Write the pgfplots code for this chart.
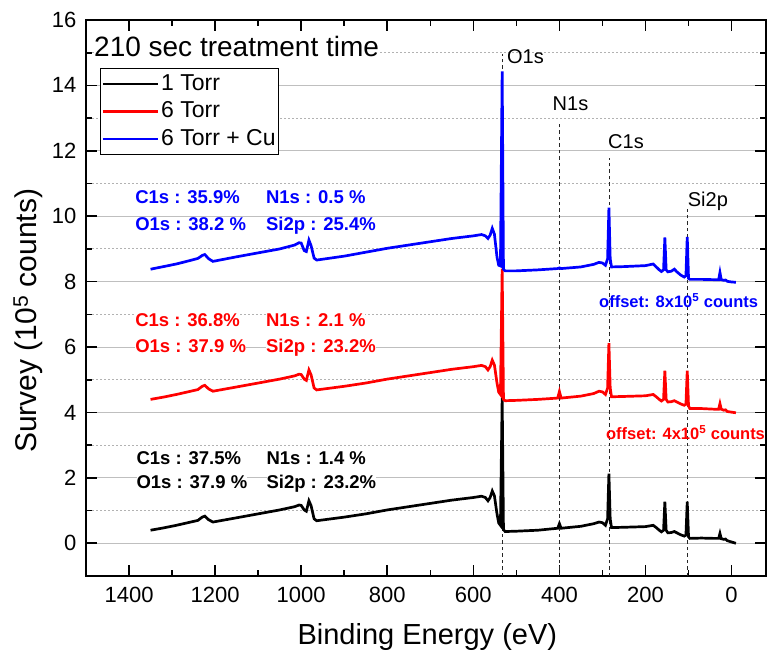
\documentclass[border=0pt]{standalone}
\usepackage{fontspec}
\setmainfont{Liberation Sans}
\usepackage{pgfplots}
\pgfplotsset{compat=1.18}

% black: 1 Torr (no offset)
\pgfplotstableread{
x y
1350 0.40
1320 0.47
1290 0.55
1260 0.64
1240 0.70
1230 0.80
1224 0.83
1215 0.72
1205 0.65
1150 0.78
1100 0.90
1050 1.02
1015 1.12
1005 1.17
1000 1.16
993 1.02
988 0.98
982 1.30
977 1.15
970 0.75
964 0.69
900 0.80
850 0.90
800 1.02
750 1.12
700 1.22
650 1.32
600 1.40
581 1.44
572 1.40
566 1.30
561 1.40
556 1.60
551 1.45
545 0.90
541 0.62
537 0.55
533 4.45
530 0.42
526 0.36
500 0.37
450 0.40
404 0.46
400 0.60
396 0.46
350 0.52
320 0.60
308 0.65
300 0.63
293 0.55
288 0.75
285 2.13
282 0.75
279 0.48
250 0.49
200 0.51
182 0.55
175 0.48
168 0.40
163 0.35
158 0.40
155 1.27
152 0.40
148 0.32
140 0.33
133 0.36
127 0.32
118 0.26
110 0.22
106 0.25
103 1.27
100 0.20
97 0.15
70 0.16
40 0.15
30 0.15
27 0.30
24 0.14
18 0.12
14 0.13
10 0.08
0 0.04
-10 0.00
}\torrone

% red: 6 Torr (offset 4)
\pgfplotstableread{
x y
1350 4.40
1320 4.47
1290 4.55
1260 4.64
1240 4.70
1230 4.80
1224 4.83
1215 4.72
1205 4.65
1150 4.78
1100 4.90
1050 5.02
1015 5.12
1005 5.17
1000 5.16
993 5.02
988 4.98
982 5.30
977 5.15
970 4.75
964 4.69
900 4.80
850 4.90
800 5.02
750 5.12
700 5.22
650 5.32
600 5.40
581 5.44
572 5.40
566 5.30
561 5.40
556 5.60
551 5.45
545 4.90
541 4.62
537 4.55
533 8.40
530 4.40
526 4.36
500 4.37
450 4.40
404 4.44
400 4.64
396 4.44
350 4.50
320 4.58
308 4.65
300 4.63
293 4.55
288 4.75
285 6.12
282 4.75
279 4.48
250 4.49
200 4.51
182 4.55
175 4.48
168 4.40
163 4.35
158 4.40
155 5.28
152 4.40
148 4.32
140 4.33
133 4.36
127 4.32
118 4.26
110 4.22
106 4.25
103 5.28
100 4.20
97 4.12
70 4.12
40 4.10
30 4.10
27 4.27
24 4.10
18 4.07
14 4.08
10 4.03
0 4.01
-10 3.99
}\torrsix

% blue: 6 Torr + Cu (offset 8)
\pgfplotstableread{
x y
1350 8.38
1320 8.46
1290 8.54
1260 8.64
1240 8.71
1230 8.80
1224 8.83
1215 8.70
1205 8.62
1150 8.76
1100 8.88
1050 9.00
1015 9.12
1005 9.19
1000 9.18
993 8.95
988 8.92
982 9.27
977 9.10
970 8.72
964 8.66
900 8.78
850 8.90
800 9.02
750 9.12
700 9.22
650 9.32
600 9.40
581 9.44
572 9.40
566 9.32
561 9.42
556 9.63
551 9.45
545 8.75
541 8.50
537 8.48
533 14.43
530 8.38
526 8.33
500 8.33
450 8.36
404 8.40
400 8.42
396 8.40
350 8.45
320 8.53
308 8.59
300 8.57
293 8.50
288 8.70
285 10.26
282 8.70
279 8.45
250 8.46
200 8.49
182 8.54
175 8.45
168 8.36
163 8.31
158 8.36
155 9.35
152 8.36
148 8.30
140 8.32
133 8.38
127 8.30
118 8.20
110 8.14
106 8.18
103 9.37
100 8.10
97 8.07
70 8.07
40 8.06
30 8.06
27 8.28
24 8.06
18 8.04
14 8.05
10 8.01
0 7.99
-10 7.98
}\torrsixcu

\begin{document}
\begin{tikzpicture}
\begin{axis}[
    scale only axis,
    width=680pt, height=556pt,
    x dir=reverse,
    xmin=-80, xmax=1500, ymin=-1, ymax=16,
    xtick={0,200,...,1400}, ytick={0,2,...,16},
    minor x tick num=1, minor y tick num=1,
    tick align=inside,
    major tick length=11pt, minor tick length=6pt,
    every tick/.style={black, line width=1.6pt},
    axis line style={line width=2pt},
    ymajorgrids, yminorgrids,
    major grid style={line width=1pt, black!25},
    minor grid style={line width=1pt, black!30, dash pattern=on 2pt off 2pt},
    tick label style={font=\fontsize{22}{26}\selectfont},
    /pgf/number format/assume math mode=true,
    /pgf/number format/1000 sep={},
    xticklabel style={yshift=-7.5pt},
    yticklabel style={xshift=-6pt},
    xlabel={Binding Energy (eV)},
    ylabel={Survey (10\textsuperscript{5} counts)},
    xlabel style={at={(axis description cs:0.502,-0.124)}, anchor=base,
        font=\fontsize{29}{33}\selectfont},
    ylabel style={at={(axis description cs:-0.085,0.459)}, anchor=center,
        font=\fontsize{30}{34}\selectfont},
    legend style={at={(axis description cs:0.0206,0.914)}, anchor=north west,
        draw=black, line width=1pt, fill=white,
        inner xsep=1pt, inner ysep=2pt,
        font=\fontsize{23}{27}\selectfont,
        nodes={text height=16.5pt, text depth=4pt, inner ysep=3.5pt},
        cells={anchor=west}},
    legend image code/.code={\draw[#1] (0pt,0pt) -- (55pt,0pt);},
    clip=false,
]
% peak position markers
\draw[dash pattern=on 3.5pt off 3pt, line width=0.9pt, black!85] (axis cs:532.5,-1) -- (axis cs:532.5,14.95);
\draw[dash pattern=on 3.5pt off 3pt, line width=0.9pt, black!85] (axis cs:400.5,-1) -- (axis cs:400.5,12.85);
\draw[dash pattern=on 3.5pt off 3pt, line width=0.9pt, black!85] (axis cs:284.5,-1) -- (axis cs:284.5,11.79);
\draw[dash pattern=on 3.5pt off 3pt, line width=0.9pt, black!85] (axis cs:102.5,-1) -- (axis cs:102.5,10.21);

\addplot[black, line width=2.7pt] table[x=x, y=y] {\torrone};
\addplot[red, line width=2.7pt] table[x=x, y=y] {\torrsix};
\addplot[blue, line width=2.7pt] table[x=x, y=y] {\torrsixcu};
\legend{1 Torr, 6 Torr, 6 Torr + Cu}

\node[anchor=base west, inner sep=0pt, fill=white, font=\fontsize{28}{32}\selectfont]
    at (axis description cs:0.0118,0.935) {210 sec treatment time};

\begin{scope}[every node/.style={anchor=base west, inner sep=0pt, font=\fontsize{20}{24}\selectfont}]
\node at (axis cs:522,14.68) {O1s};
\node at (axis cs:416,13.23) {N1s};
\node at (axis cs:287,12.06) {C1s};
\node at (axis cs:102,10.31) {Si2p};
\end{scope}

\begin{scope}[every node/.style={anchor=base west, inner sep=0pt, fill=white, font=\bfseries\fontsize{18.5}{22}\selectfont}]
\node[text=blue] at (axis cs:1386,10.38) {C1s : 35.9\%};
\node[text=blue] at (axis cs:1082,10.38) {N1s : 0.5 \%};
\node[text=blue] at (axis cs:1386,9.57) {O1s : 38.2 \%};
\node[text=blue] at (axis cs:1082,9.57) {Si2p : 25.4\%};
\node[text=red] at (axis cs:1386,6.64) {C1s : 36.8\%};
\node[text=red] at (axis cs:1082,6.64) {N1s : 2.1 \%};
\node[text=red] at (axis cs:1386,5.83) {O1s : 37.9 \%};
\node[text=red] at (axis cs:1082,5.83) {Si2p : 23.2\%};
\node at (axis cs:1383,2.42) {C1s : 37.5\%};
\node at (axis cs:1081,2.42) {N1s : 1.4 \%};
\node at (axis cs:1383,1.68) {O1s : 37.9 \%};
\node at (axis cs:1081,1.68) {Si2p : 23.2\%};
\end{scope}

\begin{scope}[every node/.style={anchor=base west, inner sep=0pt, font=\bfseries\fontsize{16.5}{20}\selectfont}]
\node[text=blue] at (axis cs:308,7.2) {offset: 8x10\textsuperscript{5} counts};
\node[text=red] at (axis cs:292,3.17) {offset: 4x10\textsuperscript{5} counts};
\end{scope}
\end{axis}
\pgfresetboundingbox
\path[use as bounding box] ([shift={(-86pt,-80pt)}]current axis.south west) rectangle ([shift={(1pt,20pt)}]current axis.north east);
\end{tikzpicture}
\end{document}
